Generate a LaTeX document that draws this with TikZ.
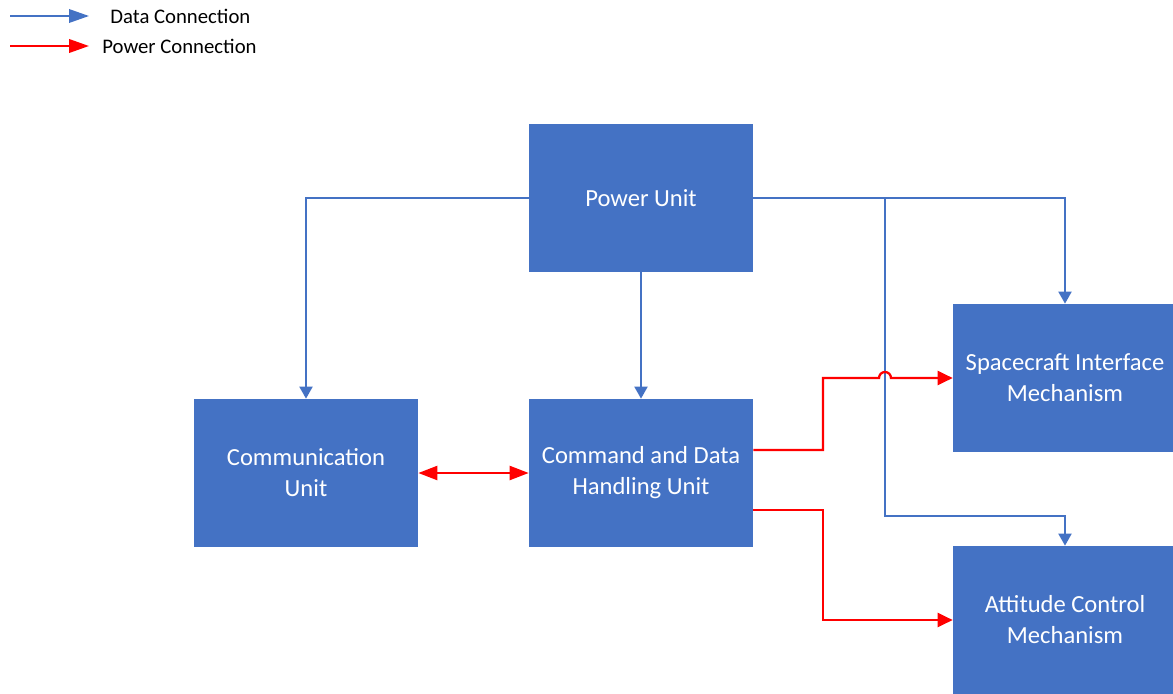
\documentclass[tikz,border=0pt]{standalone}
\usepackage{fontspec}
\setmainfont{Carlito}
\usetikzlibrary{arrows.meta}
\definecolor{unitblue}{HTML}{4472C4}
\definecolor{pwrred}{HTML}{FF0000}

\begin{document}
\begin{tikzpicture}[x=0.02cm, y=-0.02cm,
  unit/.style={fill=unitblue, text=white, minimum width=4.48cm, minimum height=2.96cm,
    inner sep=0, align=center, font=\fontsize{14}{17.6}\selectfont},
  data/.style={unitblue, line width=1.1pt, -{Triangle[length=0.24cm,width=0.26cm]}},
  pwr/.style={pwrred, line width=1.3pt, -{Triangle[length=0.3cm,width=0.28cm]}},
  legarrow/.style={-{Triangle[length=0.4cm,width=0.27cm]}},
  legtext/.style={anchor=west, inner sep=0, font=\fontsize{11.8}{14}\selectfont}]
  \useasboundingbox (0,0) rectangle (1173,693);
  \clip (0,0) rectangle (1173,693);
  % legend
  \coordinate (d0) at (10,16);  \coordinate (d1) at (89,16);
  \coordinate (p0) at (10,46);  \coordinate (p1) at (89,46);
  \draw[data, legarrow] (d0) -- (d1);
  \draw[pwr, legarrow] (p0) -- (p1);
  \node[legtext] (dlab) at (110,16) {Data Connection};
  \node[legtext] (plab) at (102,46) {Power Connection};
  % units
  \node[unit] (power) at (641,198) {Power Unit};
  \node[unit] (comm) at (306,473) {Communication\\Unit};
  \node[unit] (cdh) at (641,473) {Command and Data\\Handling Unit};
  \node[unit] (sim) at (1065,378) {Spacecraft Interface\\Mechanism};
  \node[unit] (acm) at (1065,620) {Attitude Control\\Mechanism};
  % data lines
  \coordinate (tap) at (885,198);
  \coordinate (bend) at (885,516);
  \draw[data] (power.west) -| (comm.north);
  \draw[data] (power) -- (cdh);
  \draw[data] (power.east) -| (sim.north);
  \draw[data] (tap) -- (bend) -| (acm.north);
  % power lines
  \draw[pwr] ([yshift=0.46cm]cdh.east) -| (823,378) -- (879,378)
    arc[start angle=180, end angle=0, radius=0.12cm] -- (sim.west);
  \draw[pwr] ([yshift=-0.74cm]cdh.east) -| (823,620) -- (acm.west);
  \draw[pwr, {Triangle[length=0.38cm,width=0.28cm]}-{Triangle[length=0.38cm,width=0.28cm]}] (comm) -- (cdh);
\end{tikzpicture}
\end{document}
